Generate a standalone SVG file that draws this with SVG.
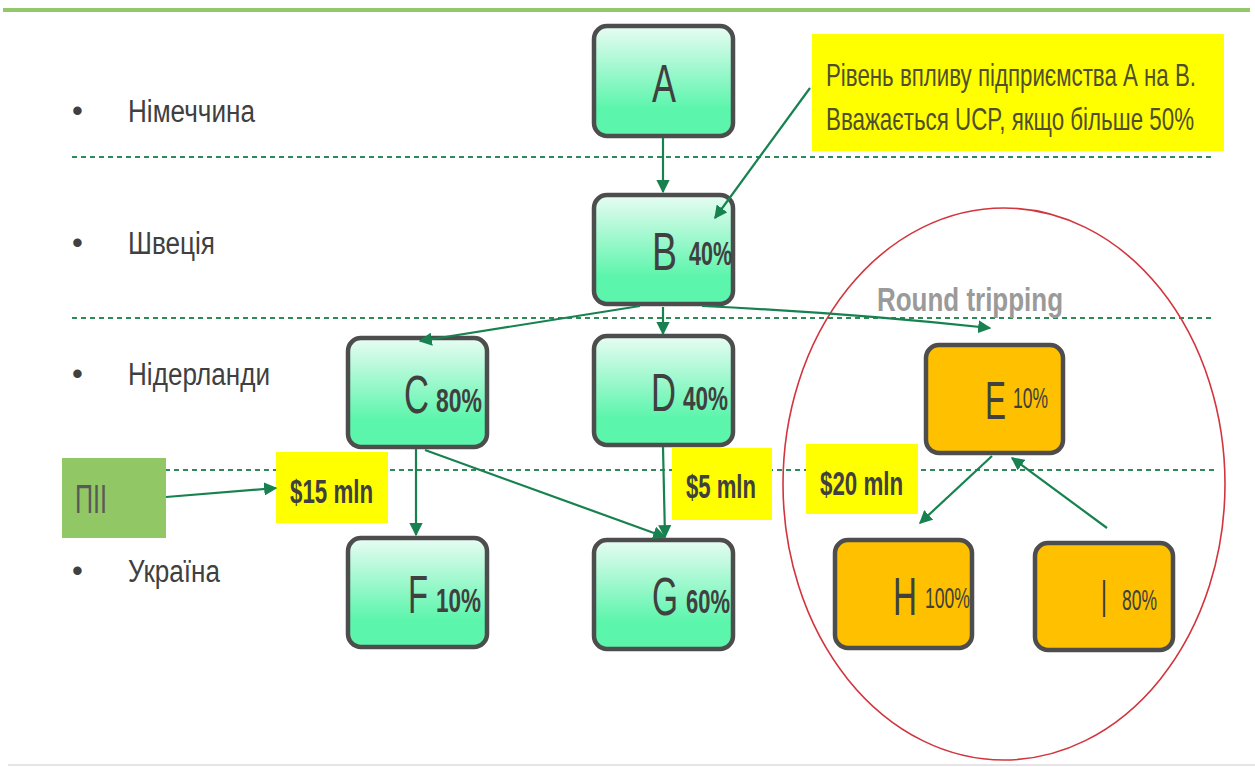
<svg xmlns="http://www.w3.org/2000/svg" width="1255" height="767" viewBox="0 0 1255 767">
<defs>
<linearGradient id="gg" x1="0" y1="0" x2="0" y2="1">
<stop offset="0" stop-color="#E8FCF3"/>
<stop offset="0.75" stop-color="#5CF5AC"/>
<stop offset="1" stop-color="#5CF5AC"/>
</linearGradient>
<marker id="ah" viewBox="0 0 10 10" refX="9" refY="5" markerWidth="6" markerHeight="6" orient="auto" markerUnits="strokeWidth">
<path d="M0,0 L10,5 L0,10 z" fill="#17824F"/>
</marker>
<style>
.gn{fill:url(#gg);stroke:#4D4D4D;stroke-width:4.5}
.on{fill:#FFC000;stroke:#4D4D4D;stroke-width:4.5}
.yb{fill:#FFFF00}
.dash{stroke:#2E8B57;stroke-width:2;stroke-dasharray:5,4;fill:none}
.con{stroke:#17824F;stroke-width:2.2;fill:none;marker-end:url(#ah)}
.t{font-family:"Liberation Sans",Arial,sans-serif;fill:#404040}
.big{font-size:54px}
.pb{font-size:34px;font-weight:bold}
.pn{font-size:30px}
.lab{font-size:31px;fill:#404040}
.mb{font-size:34px;font-weight:bold;fill:#404040}
</style>
</defs>
<rect x="0" y="0" width="1255" height="767" fill="#FFFFFF"/>
<line x1="3" y1="10" x2="1250" y2="10" stroke="#92C86A" stroke-width="4"/>
<line x1="8" y1="765" x2="1255" y2="765" stroke="#DDDDDD" stroke-width="1.5"/>
<g id="guides">
<line class="dash" x1="72" y1="157" x2="1214" y2="157"/>
<line class="dash" x1="72" y1="318" x2="1214" y2="318"/>
<line class="dash" x1="165" y1="470" x2="1214" y2="470"/>
</g>
<g id="countries" class="t">
<text class="lab" x="72" y="121">•</text>
<text class="lab" x="128" y="122" textLength="127" lengthAdjust="spacingAndGlyphs">Німеччина</text>
<text class="lab" x="72" y="253">•</text>
<text class="lab" x="128" y="254" textLength="87" lengthAdjust="spacingAndGlyphs">Швеція</text>
<text class="lab" x="72" y="384">•</text>
<text class="lab" x="128" y="385" textLength="142" lengthAdjust="spacingAndGlyphs">Нідерланди</text>
<text class="lab" x="72" y="581">•</text>
<text class="lab" x="128" y="582" textLength="92" lengthAdjust="spacingAndGlyphs">Україна</text>
</g>
<ellipse id="round-tripping-circle" cx="1004" cy="484" rx="221" ry="276" fill="none" stroke="#D2353D" stroke-width="1.6"/>
<text id="round-tripping" class="t" x="877" y="311" font-size="34" font-weight="bold" style="fill:#9A9A9A" textLength="186" lengthAdjust="spacingAndGlyphs">Round tripping</text>
<g id="callout">
<rect class="yb" x="812" y="34" width="412" height="117"/>
<text class="t" x="826" y="86" font-size="32" textLength="370" lengthAdjust="spacingAndGlyphs" style="fill:#4F4F2F">Рівень впливу підприємства А на В.</text>
<text class="t" x="826" y="130" font-size="32" textLength="368" lengthAdjust="spacingAndGlyphs" style="fill:#4F4F2F">Вважається UCP, якщо більше 50%</text>
</g>
<g id="PII">
<rect x="62" y="458" width="104" height="80" fill="#92C765"/>
<text class="t" x="75" y="513" font-size="40" textLength="32" lengthAdjust="spacingAndGlyphs" style="fill:#595959">ПІІ</text>
</g>
<g id="m15">
<rect class="yb" x="276" y="452" width="112" height="71"/>
<text class="t mb" x="290" y="503" textLength="83" lengthAdjust="spacingAndGlyphs">$15 mln</text>
</g>
<g id="m5">
<rect class="yb" x="672" y="448" width="100" height="72"/>
<text class="t mb" x="686" y="498" textLength="70" lengthAdjust="spacingAndGlyphs">$5 mln</text>
</g>
<g id="m20">
<rect class="yb" x="806" y="444" width="112" height="70"/>
<text class="t mb" x="820" y="495" textLength="83" lengthAdjust="spacingAndGlyphs">$20 mln</text>
</g>
<g id="node-A">
<rect class="gn" x="594" y="26" width="139" height="110" rx="13"/>
<text class="t big" x="652" y="102" textLength="24" lengthAdjust="spacingAndGlyphs">A</text>
</g>
<g id="node-B">
<rect class="gn" x="594" y="195" width="139" height="109" rx="13"/>
<text class="t big" x="652" y="270" textLength="25" lengthAdjust="spacingAndGlyphs">B</text>
<text class="t pb" x="689" y="265" textLength="43" lengthAdjust="spacingAndGlyphs">40%</text>
</g>
<g id="node-C">
<rect class="gn" x="348" y="338" width="139" height="109" rx="13"/>
<text class="t big" x="404" y="413" textLength="25" lengthAdjust="spacingAndGlyphs">C</text>
<text class="t pb" x="436" y="412" textLength="46" lengthAdjust="spacingAndGlyphs">80%</text>
</g>
<g id="node-D">
<rect class="gn" x="594" y="336" width="139" height="109" rx="13"/>
<text class="t big" x="651" y="411" textLength="25" lengthAdjust="spacingAndGlyphs">D</text>
<text class="t pb" x="683" y="410" textLength="45" lengthAdjust="spacingAndGlyphs">40%</text>
</g>
<g id="node-F">
<rect class="gn" x="348" y="538" width="139" height="109" rx="13"/>
<text class="t big" x="408" y="613" textLength="20" lengthAdjust="spacingAndGlyphs">F</text>
<text class="t pb" x="436" y="612" textLength="45" lengthAdjust="spacingAndGlyphs">10%</text>
</g>
<g id="node-G">
<rect class="gn" x="594" y="540" width="139" height="109" rx="13"/>
<text class="t big" x="652" y="615" textLength="26" lengthAdjust="spacingAndGlyphs">G</text>
<text class="t pb" x="686" y="613" textLength="44" lengthAdjust="spacingAndGlyphs">60%</text>
</g>
<g id="node-E">
<rect class="on" x="926" y="345" width="137" height="108" rx="13"/>
<text class="t big" x="985" y="419" textLength="21" lengthAdjust="spacingAndGlyphs">E</text>
<text class="t pn" x="1013" y="408" textLength="35" lengthAdjust="spacingAndGlyphs">10%</text>
</g>
<g id="node-H">
<rect class="on" x="835" y="540" width="137" height="108" rx="13"/>
<text class="t big" x="893" y="615" textLength="24" lengthAdjust="spacingAndGlyphs">H</text>
<text class="t pn" x="925" y="608" textLength="45" lengthAdjust="spacingAndGlyphs">100%</text>
</g>
<g id="node-I">
<rect class="on" x="1035" y="543" width="138" height="107" rx="13"/>
<text class="t big" x="1101" y="617" textLength="6" lengthAdjust="spacingAndGlyphs">I</text>
<text class="t pn" x="1122" y="610" textLength="35" lengthAdjust="spacingAndGlyphs">80%</text>
</g>
<g id="connectors">
<line class="con" x1="663" y1="138" x2="663" y2="192"/>
<line class="con" x1="810" y1="88" x2="715" y2="218"/>
<line class="con" x1="640" y1="306" x2="420" y2="341"/>
<line class="con" x1="663" y1="307" x2="663" y2="334"/>
<path class="con" d="M702,306 Q850,313 990,328"/>
<line class="con" x1="416" y1="449" x2="416" y2="535"/>
<line class="con" x1="425" y1="450" x2="665" y2="537"/>
<line class="con" x1="663" y1="447" x2="665" y2="537"/>
<line class="con" x1="166" y1="497" x2="276" y2="488"/>
<line class="con" x1="992" y1="456" x2="920" y2="523"/>
<line class="con" x1="1107" y1="528" x2="1012" y2="458"/>
</g>
</svg>
